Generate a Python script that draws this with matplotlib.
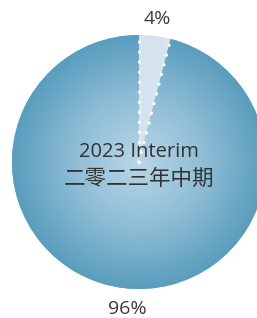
import numpy as np
import matplotlib
matplotlib.use("Agg")
import matplotlib.pyplot as plt
from matplotlib.colors import LinearSegmentedColormap

plt.rcParams['font.family'] = ['Noto Sans CJK SC', 'DejaVu Sans']

shares = [4, 96]
labels = ['4%', '96%']
title_en = '2023 Interim'
title_zh = '二零二三年中期'

W, H = 257, 318
fig = plt.figure(figsize=(W / 100, H / 100), dpi=100)
ax = fig.add_axes([0, 0, 1, 1])

cx, cy, R = 139, H - 162, 127

wedges, texts = ax.pie(shares, labels=labels, startangle=90, counterclock=False,
                       center=(cx, cy), radius=R, labeldistance=1.14,
                       colors=['#d4e3ee', '#6aa8c6'], frame=True,
                       wedgeprops=dict(linewidth=0),
                       textprops=dict(fontsize=14, color='#3a3a3a',
                                      family=['Open Sans', 'DejaVu Sans']))
ax.set_xlim(0, W)
ax.set_ylim(0, H)
ax.set_aspect('equal')
ax.axis('off')
label_pos = [(157, H - 19), (127, H - 309)]
for t, p in zip(texts, label_pos):
    t.set_ha('center')
    t.set_va('center')
    t.set_position(p)

# radial gradient on the large slice
cmap = LinearSegmentedColormap.from_list('g', ['#b8d7e7', '#90bed6', '#5a9dbe'])
n = 400
xs = np.linspace(cx - R, cx + R, n)
ys = np.linspace(cy - R, cy + R, n)
X, Y = np.meshgrid(xs, ys)
D = np.sqrt((X - cx) ** 2 + (Y - cy) ** 2) / R
im = ax.imshow(np.clip(D, 0, 1), cmap=cmap, extent=(cx - R, cx + R, cy - R, cy + R),
               origin='lower', zorder=1.5, vmin=0, vmax=1)
im.set_clip_path(wedges[1])

# dotted white edges of the small slice
for ang in (wedges[0].theta1, wedges[0].theta2):
    a = np.deg2rad(ang)
    ax.plot([cx, cx + R * np.cos(a)], [cy, cy + R * np.sin(a)], color='white',
            lw=2.4, linestyle=(0, (0.01, 3.0)), dash_capstyle='round', zorder=3)

ax.text(cx, H - 152, title_en, ha='center', va='center', fontsize=14.5,
        color='#333333', zorder=4, family=['Open Sans', 'DejaVu Sans'])
ax.text(cx, H - 179, title_zh, ha='center', va='center', fontsize=15.5,
        color='#333333', zorder=4)

fig.savefig('out.png', dpi=100)
